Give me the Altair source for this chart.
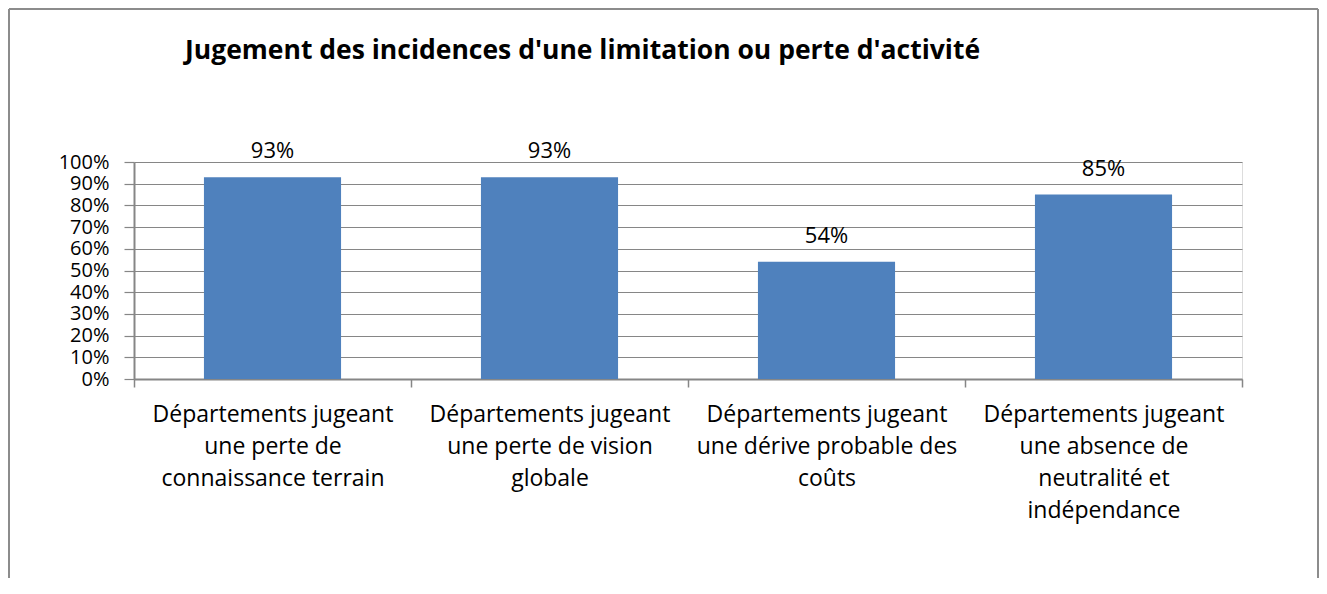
import altair as alt
import pandas as pd

categories = [
    "Départements jugeant|une perte de|connaissance terrain",
    "Départements jugeant|une perte de vision|globale",
    "Départements jugeant|une dérive probable des|coûts",
    "Départements jugeant|une absence de|neutralité et|indépendance",
]
values = [0.93, 0.93, 0.54, 0.85]
y_ticks = [0, 0.1, 0.2, 0.3, 0.4, 0.5, 0.6, 0.7, 0.8, 0.9, 1.0]
title_text = ["Jugement des incidences d'une limitation ou perte d'activité"]

df = pd.DataFrame({"cat": categories, "val": values})
df_title = pd.DataFrame({"t": title_text})

FONT = "Open Sans"
GRAY = "#868686"

x_enc = alt.X(
    "cat:N",
    sort=categories,
    title=None,
    scale=alt.Scale(paddingInner=0, paddingOuter=0),
    axis=alt.Axis(
        labelExpr="split(datum.label, '|')",
        labelAngle=0,
        labelFont=FONT,
        labelFontSize=23,
        labelColor="#000000",
        labelLineHeight=32,
        labelBaseline="top",
        labelPadding=16,
        labelLimit=400,
        tickBand="extent",
        tickSize=8,
        tickColor=GRAY,
        tickWidth=1.5,
        domainColor=GRAY,
        domainWidth=2,
        grid=False,
    ),
)

y_enc = alt.Y(
    "val:Q",
    title=None,
    scale=alt.Scale(domain=[0, 1]),
    axis=alt.Axis(
        values=y_ticks,
        format=".0%",
        labelOverlap=False,
        labelFont=FONT,
        labelFontSize=20,
        labelColor="#000000",
        labelPadding=15,
        tickSize=10,
        tickColor=GRAY,
        tickWidth=1.2,
        domainColor=GRAY,
        domainWidth=2,
        gridColor=GRAY,
        gridWidth=1.2,
    ),
)

BORDER = "#8c8c8c"
edges = [
    dict(x=-125, x2=1184, y=-153, y2=-153),
    dict(x=-125, x2=-125, y=-153, y2=500),
    dict(x=1184, x2=1184, y=-153, y2=500),
]
border_layers = [
    alt.Chart(df_title).mark_rule(color=BORDER, strokeWidth=2).encode(
        x=alt.value(e["x"]), x2=alt.value(e["x2"]),
        y=alt.value(e["y"]), y2=alt.value(e["y2"]),
    )
    for e in edges
]

bars = alt.Chart(df).mark_bar(
    color="#4F81BD", width=alt.RelativeBandSize(0.495)
).encode(x=x_enc, y=y_enc)

labels = alt.Chart(df).mark_text(
    font=FONT, fontSize=22, color="#000000", baseline="alphabetic", dy=-19
).encode(
    x=x_enc,
    y=y_enc,
    text=alt.Text("val:Q", format=".0%"),
)

title = alt.Chart(df_title).mark_text(
    font=FONT, fontSize=26.5, fontWeight="bold", color="#000000",
    align="left", baseline="alphabetic"
).encode(x=alt.value(51), y=alt.value(-103), text="t:N")

chart = alt.layer(*border_layers, bars, labels, title).properties(
    width=1108,
    height=217,
    autosize=alt.AutoSizeParams(type="none"),
    padding={"left": 126, "top": 154, "right": 77, "bottom": 199},
).configure_view(stroke=None).configure(background="white")

chart.save("out.html", embed_options={"renderer": "svg", "actions": False})
